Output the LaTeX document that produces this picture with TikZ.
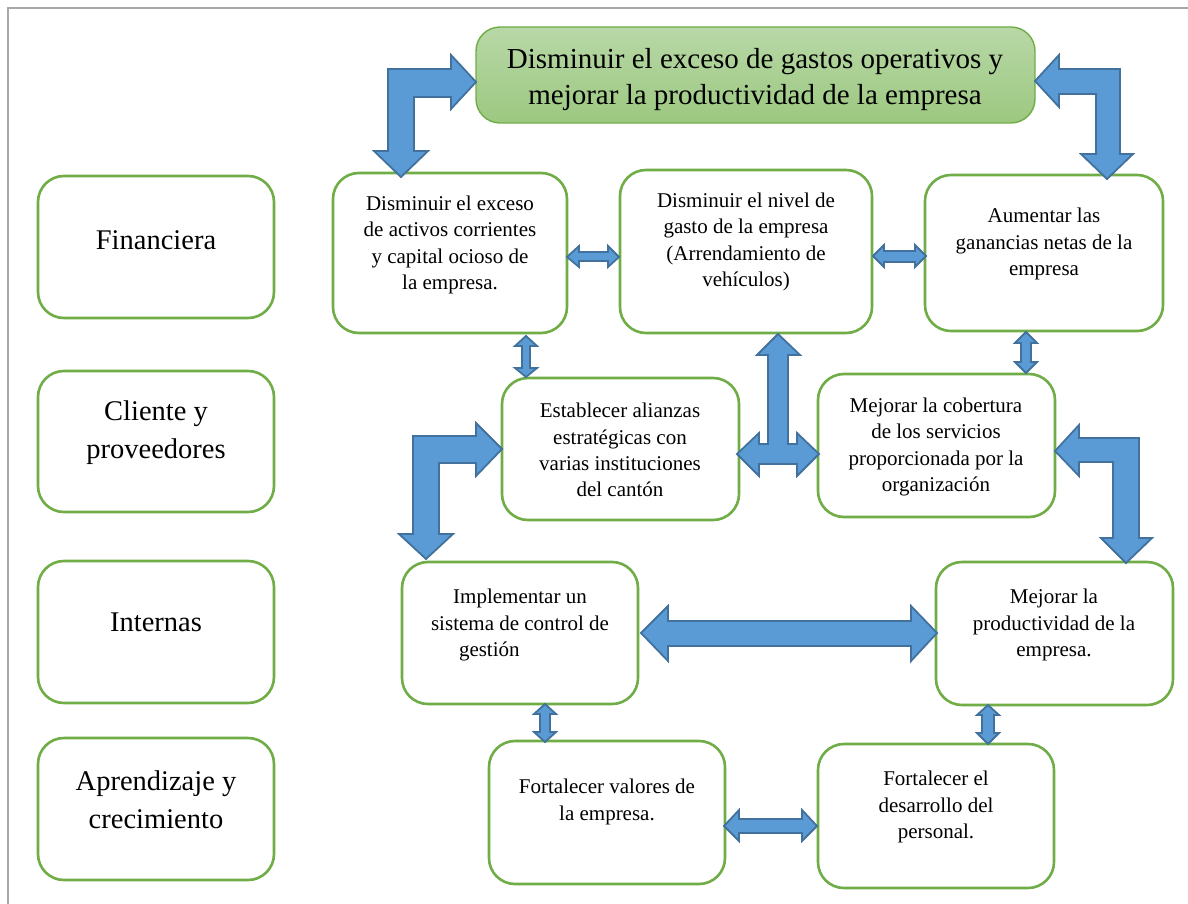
\documentclass[tikz,border=0pt]{standalone}
\usepackage{fontspec}
\setmainfont{Liberation Serif}
\usetikzlibrary{fit}
\definecolor{boxgreen}{RGB}{112,173,71}
\definecolor{topgreenA}{RGB}{184,216,167}
\definecolor{topgreenB}{RGB}{156,200,128}
\definecolor{arrowfill}{RGB}{91,155,213}
\definecolor{arrowline}{RGB}{65,113,156}
\definecolor{framegray}{RGB}{168,168,168}
\begin{document}
\begin{tikzpicture}[x=1pt,y=-1pt,
  objbox/.style={draw=boxgreen, line width=2.6pt, rounded corners=26pt, fill=white, inner sep=0pt},
  goalbox/.style={draw=boxgreen, line width=1.4pt, rounded corners=24pt, inner sep=0pt,
    top color=topgreenA, bottom color=topgreenB},
  persp/.style={align=center, font=\fontsize{28.5}{38}\selectfont},
  goaltxt/.style={align=center, font=\fontsize{29}{36}\selectfont},
  objtxt/.style={align=center, font=\fontsize{21}{26.3}\selectfont},
  blockarrow/.style={fill=arrowfill, draw=arrowline, line width=1.8pt, line join=miter}]
\useasboundingbox (0,0) rectangle (1188,904);
\fill[white] (0,0) rectangle (1188,904);
% page frame
\draw[framegray, line width=2pt] (8,904) -- (8,8) -- (1188,8);

% perspective column
\node[objbox, fit={(38,176) (274,318)}] (fin) {};
\node[objbox, fit={(38,371) (274,512)}] (cli) {};
\node[objbox, fit={(38,561) (274,703)}] (int) {};
\node[objbox, fit={(38,738) (274,880)}] (apr) {};
\node[persp] (finT) at (156,240) {Financiera};
\node[persp] (cliT) at (156,433) {Cliente y\\proveedores};
\node[persp] (intT) at (156,622) {Internas};
\node[persp] (aprT) at (156,800) {Aprendizaje y\\crecimiento};

% goal
\node[goalbox, fit={(476,27) (1035,123)}] (goal) {};
\node[goaltxt] (goalT) at (755,80) {Disminuir el exceso de gastos operativos y\\mejorar la productividad de la empresa};

% objectives
\node[objbox, fit={(333,173) (567,333)}] (f1) {};
\node[objbox, fit={(620,170) (872,333)}] (f2) {};
\node[objbox, fit={(925,175) (1163,331)}] (f3) {};
\node[objbox, fit={(502,378) (739,520)}] (c1) {};
\node[objbox, fit={(818,374) (1055,517)}] (c2) {};
\node[objbox, fit={(402,562) (638,704)}] (i1) {};
\node[objbox, fit={(936,562) (1173,705)}] (i2) {};
\node[objbox, fit={(489,741) (725,884)}] (a1) {};
\node[objbox, fit={(818,744) (1054,888)}] (a2) {};

\node[objtxt] (f1T) at (450,245) {Disminuir el exceso\\de activos corrientes\\y capital ocioso de\\la empresa.};
\node[objtxt] (f2T) at (746,242) {Disminuir el nivel de\\gasto de la empresa\\(Arrendamiento de\\vehículos)};
\node[objtxt] (f3T) at (1044,244) {Aumentar las\\ganancias netas de la\\empresa};
\node[objtxt] (c1T) at (620,450) {Establecer alianzas\\estratégicas con\\varias instituciones\\del cantón};
\node[objtxt] (c2T) at (936,447) {Mejorar la cobertura\\de los servicios\\proporcionada por la\\organización};
\node[objtxt] (i1T) at (520,625) {Implementar un\\sistema de control de\\\makebox[122pt][l]{gestión}};
\node[objtxt] (i2T) at (1054,625) {Mejorar la\\productividad de la\\empresa.};
\node[objtxt] (a1T) at (607,802) {Fortalecer valores de\\la empresa.};
\node[objtxt] (a2T) at (936,807) {Fortalecer el\\desarrollo del\\personal.};

% bent arrows
\draw[blockarrow] (476,82) -- (451,55) -- (451,69) -- (388,69) -- (388,151) -- (374,151)
  -- (401,177) -- (428,151) -- (414,151) -- (414,97) -- (451,97) -- (451,109) -- cycle;
\draw[blockarrow] (1035,81) -- (1059,55) -- (1059,69) -- (1120,69) -- (1120,154) -- (1133,154)
  -- (1107,179) -- (1081,154) -- (1096,154) -- (1096,94) -- (1059,94) -- (1059,107) -- cycle;
\draw[blockarrow] (502,449) -- (476,423) -- (476,436) -- (413,436) -- (413,534) -- (399,534)
  -- (426,559) -- (453,534) -- (439,534) -- (439,463) -- (476,463) -- (476,476) -- cycle;
\draw[blockarrow] (1055,451) -- (1079,425) -- (1079,438) -- (1139,438) -- (1139,538) -- (1152,538)
  -- (1126,563) -- (1101,538) -- (1113,538) -- (1113,462) -- (1079,462) -- (1079,476) -- cycle;

% three-way arrow
\draw[blockarrow] (778,334) -- (800,355) -- (788,355) -- (788,444) -- (797,444) -- (797,433)
  -- (819,454) -- (797,476) -- (797,464) -- (759,464) -- (759,476) -- (737,454) -- (759,433)
  -- (759,444) -- (768,444) -- (768,355) -- (757,355) -- cycle;

% horizontal double arrows
\draw[blockarrow] (641,633) -- (668,606) -- (668,621) -- (911,621) -- (911,606) -- (937,633)
  -- (911,661) -- (911,646) -- (668,646) -- (668,661) -- cycle;
\draw[blockarrow] (724,826) -- (739,810) -- (739,819) -- (802,819) -- (802,810) -- (817,826)
  -- (802,841) -- (802,833) -- (739,833) -- (739,841) -- cycle;
\draw[blockarrow] (567,257) -- (579,246) -- (579,252) -- (608,252) -- (608,246) -- (619,257)
  -- (608,267) -- (608,261) -- (579,261) -- (579,267) -- cycle;
\draw[blockarrow] (873,256) -- (884,245) -- (884,251) -- (915,251) -- (915,245) -- (926,256)
  -- (915,267) -- (915,262) -- (884,262) -- (884,267) -- cycle;

% vertical double arrows
\draw[blockarrow] (526,336) -- (537,346) -- (530,346) -- (530,368) -- (537,368) -- (526,377)
  -- (515,368) -- (522,368) -- (522,346) -- (515,346) -- cycle;
\draw[blockarrow] (1026,332) -- (1037,343) -- (1031,343) -- (1031,362) -- (1037,362) -- (1026,373)
  -- (1015,362) -- (1021,362) -- (1021,343) -- (1015,343) -- cycle;
\draw[blockarrow] (545,704) -- (556,714) -- (550,714) -- (550,732) -- (556,732) -- (545,742)
  -- (534,732) -- (540,732) -- (540,714) -- (534,714) -- cycle;
\draw[blockarrow] (988,705) -- (999,715) -- (994,715) -- (994,733) -- (999,733) -- (988,744)
  -- (977,733) -- (982,733) -- (982,715) -- (977,715) -- cycle;
\end{tikzpicture}
\end{document}
